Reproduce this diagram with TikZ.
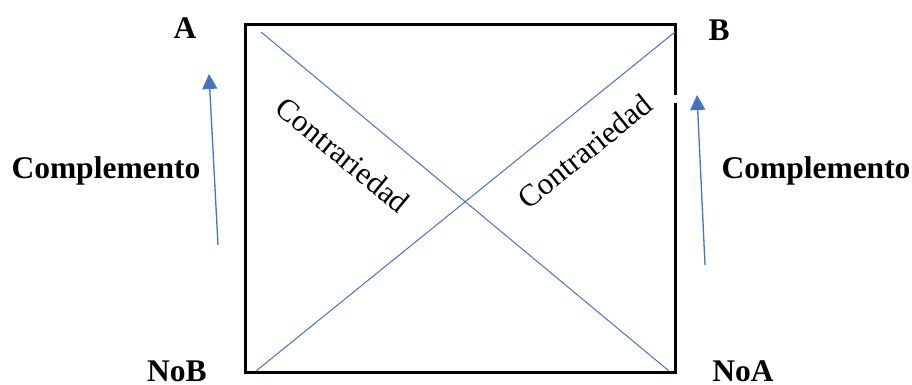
\documentclass[tikz,border=0pt]{standalone}
\usepackage{fontspec}
\setmainfont{Liberation Serif}
\usepackage{tikz}
\usetikzlibrary{arrows.meta, positioning}
\definecolor{officeblue}{HTML}{4472C4}
\tikzset{x = 1pt, y = -1pt,
	 >= {Triangle[width = 15pt, length = 15pt]},
	 every node/.style = {inner sep = 0pt,
			      font = \fontsize{31}{37}\selectfont},
	 vertex/.style = {font = \fontsize{31.5}{37}\selectfont\bfseries,
			  anchor = base},
	 sidetext/.style = {font = \fontsize{31.5}{37}\selectfont\bfseries,
			    anchor = base},
	 box/.style = {draw, line width = 3pt},
	 cross/.style = {draw = officeblue, line width = 1pt},
	 compl/.style = {->, draw = officeblue, line width = 1.3pt}}

\begin{document}
\begin{tikzpicture}
      \useasboundingbox (0,0) rectangle (912,385);
      % square of opposition
      \coordinate (tl) at (245,25);
      \coordinate (tr) at (675,25);
      \coordinate (br) at (675,372);
      \coordinate (bl) at (245,372);
      \coordinate (gaplo) at (675,103);
      \coordinate (gaphi) at (675,95);
      \draw [box] (gaphi) -- (tr) -- (tl) -- (bl) -- (br) -- (gaplo);
      % corners
      \node [vertex] (A)   at (185,39)  {A};
      \node [vertex] (B)   at (719,41)  {B};
      \node [vertex] (NoB) at (177,381) {NoB};
      \node [vertex] (NoA) at (743,381) {NoA};
      % diagonals
      \coordinate (da1) at (261,32);
      \coordinate (da2) at (669,371);
      \coordinate (db1) at (256,371);
      \coordinate (db2) at (675,32);
      \path [cross] (da1) edge (da2)
		    (db1) edge (db2);
      \node [rotate = -39.5] (c1) at (343,155) {Contrariedad};
      \node [rotate = 39]    (c2) at (585,151) {Contrariedad};
      % complement arrows
      \node [sidetext] (k1) at (106,178) {Complemento};
      \node [sidetext] (k2) at (816,178) {Complemento};
      \coordinate (ka1) at (218,245);
      \coordinate (ka2) at (209,74);
      \coordinate (kb1) at (705,265);
      \coordinate (kb2) at (697,95);
      \draw [compl] (ka1) -- (ka2);
      \draw [compl] (kb1) -- (kb2);
    \end{tikzpicture}
\end{document}
